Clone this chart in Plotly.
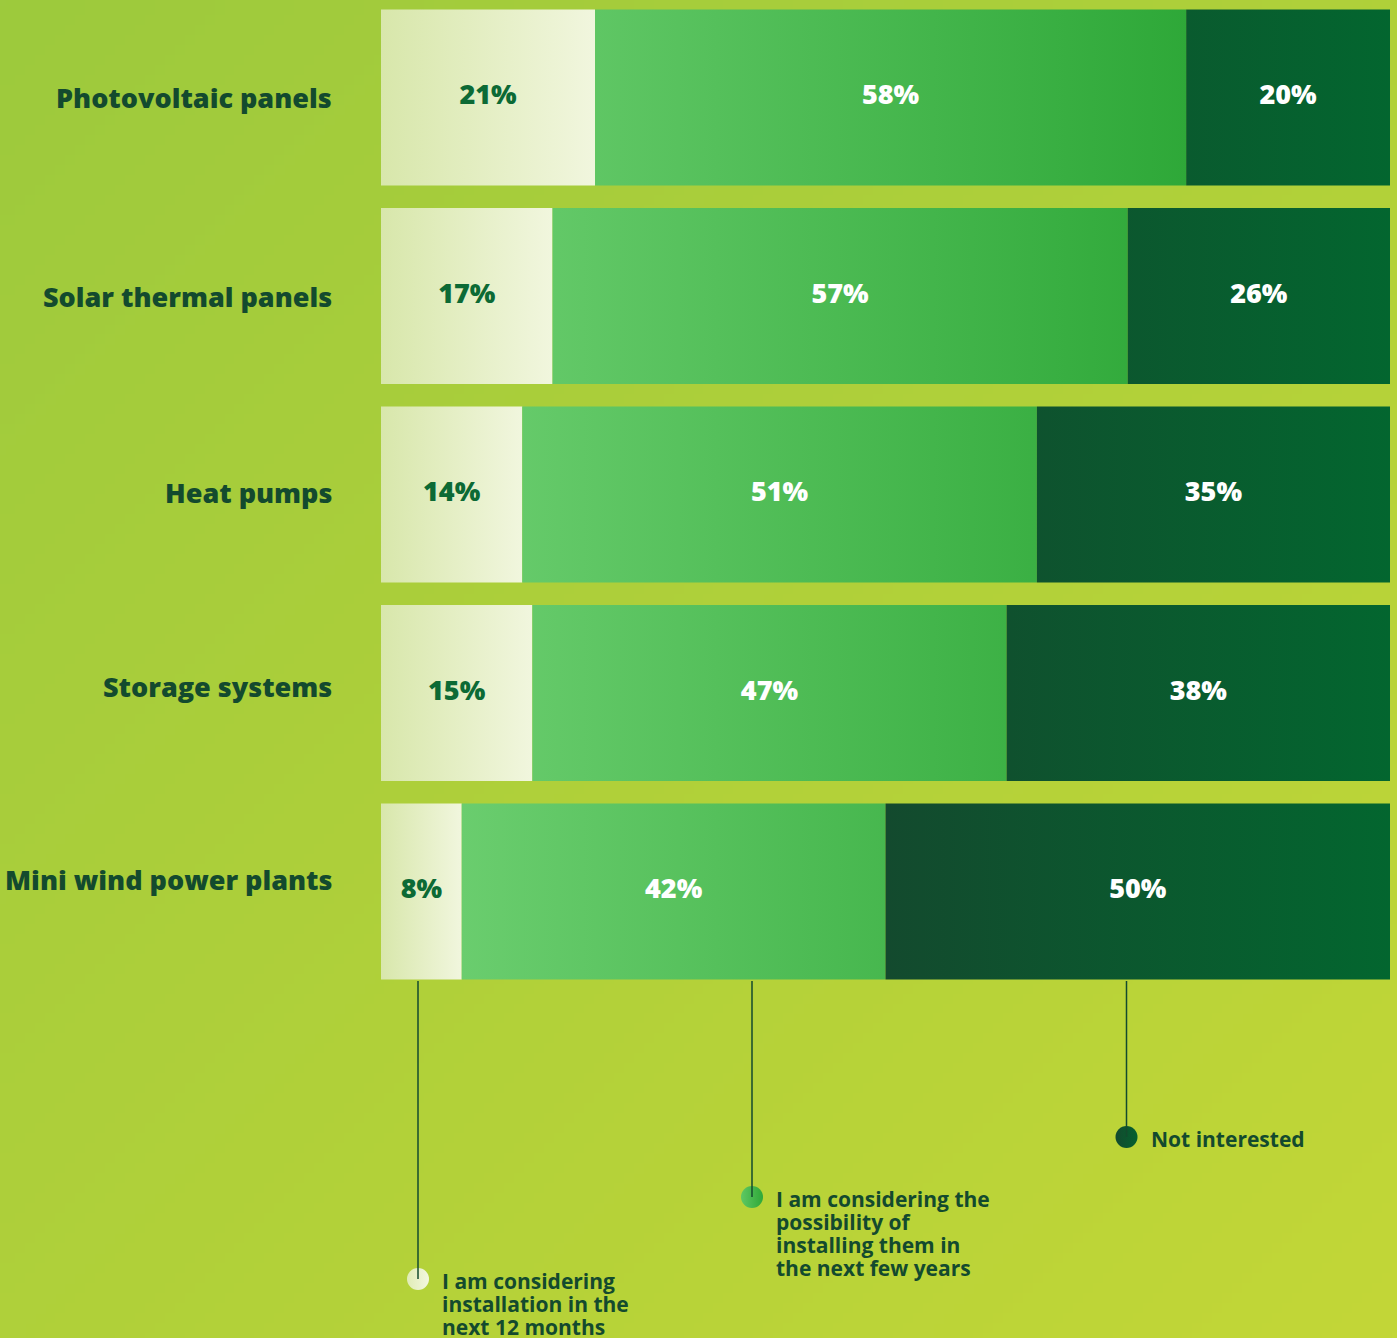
import base64
import struct
import zlib

import numpy as np
import plotly.graph_objects as go

# ---- data -------------------------------------------------------------
categories = [
    "Photovoltaic panels",
    "Solar thermal panels",
    "Heat pumps",
    "Storage systems",
    "Mini wind power plants",
]
next_12_months = [21, 17, 14, 15, 8]
next_few_years = [58, 57, 51, 47, 42]
not_interested = [20, 26, 35, 38, 50]

series_labels = [
    ["I am considering", "installation in the", "next 12 months"],
    ["I am considering the", "possibility of", "installing them in", "the next few years"],
    ["Not interested"],
]

# ---- styling -------------------------------------------------------------
W, H = 1397, 1338
FONT = "Open Sans"
DARK_TEXT = "#134a2e"
BAR_HALF = 0.443

# per series: gradient colours, gradient anchors (None = per segment), text colour
series_style = [
    dict(c0="#d8e7ab", c1="#f1f6de", start=None, stop=None, text="#0c6a35"),
    dict(c0="#6acd6e", c1="#2ea838", start=8.0, stop=80.0, text="#ffffff"),
    dict(c0="#134a2e", c1="#03662f", start=50.0, stop=100.0, text="#ffffff"),
]


def png_data_uri(rgb):
    h, w, _ = rgb.shape
    raw = b"".join(b"\x00" + rgb[r].tobytes() for r in range(h))

    def chunk(tag, data):
        body = tag + data
        return struct.pack(">I", len(data)) + body + struct.pack(">I", zlib.crc32(body) & 0xFFFFFFFF)

    png = (
        b"\x89PNG\r\n\x1a\n"
        + chunk(b"IHDR", struct.pack(">IIBBBBB", w, h, 8, 2, 0, 0, 0))
        + chunk(b"IDAT", zlib.compress(raw, 9))
        + chunk(b"IEND", b"")
    )
    return "data:image/png;base64," + base64.b64encode(png).decode()


def hex_rgb(h):
    h = h.lstrip("#")
    return np.array([int(h[i:i + 2], 16) for i in (0, 2, 4)], dtype=float)


# diagonal background wash
gw, gh = 140, 134
gx, gy = np.meshgrid(np.linspace(0, W, gw), np.linspace(0, H, gh))
t = ((gx + gy) / (W + H))[..., None]
bg = (1 - t) * hex_rgb("#9dca3d") + t * hex_rgb("#c3d737")
bg_uri = png_data_uri(np.clip(bg, 0, 255).astype(np.uint8))

# ---- geometry from data ------------------------------------------------
values = np.array([next_12_months, next_few_years, not_interested], dtype=float)
shares = values / values.sum(axis=0) * 100.0
lefts = np.vstack([np.zeros(values.shape[1]), np.cumsum(shares, axis=0)[:-1]])
rights = lefts + shares
rows = np.arange(len(categories))

# pixel -> data mapping: x=0 at 381px, x=100 at 1390px; row 0 centred at 97.5px, 198.5px per row
px_per_unit = (1390 - 381) / 100.0
x_range = [-381 / px_per_unit, (W - 381) / px_per_unit]
y_range = [(H - 97.5) / 198.5, -97.5 / 198.5]

fig = go.Figure()

for s, style in enumerate(series_style):
    for r in rows:
        x0, x1 = lefts[s, r], rights[s, r]
        grad = dict(type="horizontal", colorscale=[[0, style["c0"]], [1, style["c1"]]])
        if style["start"] is not None:
            grad["start"] = style["start"]
            grad["stop"] = style["stop"]
        fig.add_trace(
            go.Scatter(
                x=[x0, x1, x1, x0, x0],
                y=[r - BAR_HALF, r - BAR_HALF, r + BAR_HALF, r + BAR_HALF, r - BAR_HALF],
                mode="lines",
                line=dict(width=0),
                fill="toself",
                fillgradient=grad,
                hoverinfo="skip",
                showlegend=False,
            )
        )
    fig.add_trace(
        go.Scatter(
            x=(lefts[s] + rights[s]) / 2,
            y=rows,
            mode="text",
            text=[f"{int(v)}%" for v in values[s]],
            textposition="middle center",
            textfont=dict(family=FONT, size=27, color=style["text"], weight=800),
            hoverinfo="skip",
            showlegend=False,
        )
    )

# category labels to the left of the bars
label_raise = [0, 0, 2, 7, 12]
for r, name in enumerate(categories):
    fig.add_annotation(
        x=334 / W, xref="paper", y=r, yref="y",
        text=name, showarrow=False, xanchor="right", yanchor="middle",
        yshift=label_raise[r],
        font=dict(family=FONT, size=27, color=DARK_TEXT, weight=800),
    )

# ---- key with leader lines (overlay axes in page pixels) -------------------
key_x = [418, 752, 1126.5]
key_y = [1279, 1197, 1137]
key_dot = [("#e0ecb6", "#f3f7e0"), ("#5fc863", "#2ea838"), ("#134a2e", "#04612f")]

for i in range(3):
    fig.add_shape(
        type="line", xref="x2", yref="y2",
        x0=key_x[i], x1=key_x[i], y0=981, y1=key_y[i],
        line=dict(color=DARK_TEXT, width=1.5), layer="above",
    )
    fig.add_trace(
        go.Scatter(
            x=[key_x[i]], y=[key_y[i]], xaxis="x2", yaxis="y2",
            mode="markers",
            marker=dict(size=22, color=key_dot[i][0],
                        gradient=dict(type="horizontal", color=key_dot[i][1]),
                        line=dict(width=0)),
            hoverinfo="skip", showlegend=False,
        )
    )
    for j, line in enumerate(series_labels[i]):
        fig.add_annotation(
            x=key_x[i] + 22, y=key_y[i] + 2 + 23 * j, xref="x2", yref="y2",
            text=line, showarrow=False, xanchor="left", yanchor="middle",
            font=dict(family=FONT, size=21, color=DARK_TEXT, weight=700),
        )

fig.update_layout(
    width=W, height=H, autosize=False,
    margin=dict(l=0, r=0, t=0, b=0, pad=0),
    paper_bgcolor="#b0d13a",
    plot_bgcolor="rgba(0,0,0,0)",
    images=[dict(source=bg_uri, xref="paper", yref="paper", x=0, y=1,
                 sizex=1, sizey=1, sizing="stretch", xanchor="left", yanchor="top",
                 layer="below")],
    xaxis=dict(range=x_range, visible=False, fixedrange=True),
    yaxis=dict(range=y_range, visible=False, fixedrange=True),
    xaxis2=dict(range=[0, W], overlaying="x", visible=False, fixedrange=True),
    yaxis2=dict(range=[H, 0], overlaying="y", visible=False, fixedrange=True),
    showlegend=False,
)

fig.write_html("out.html")
